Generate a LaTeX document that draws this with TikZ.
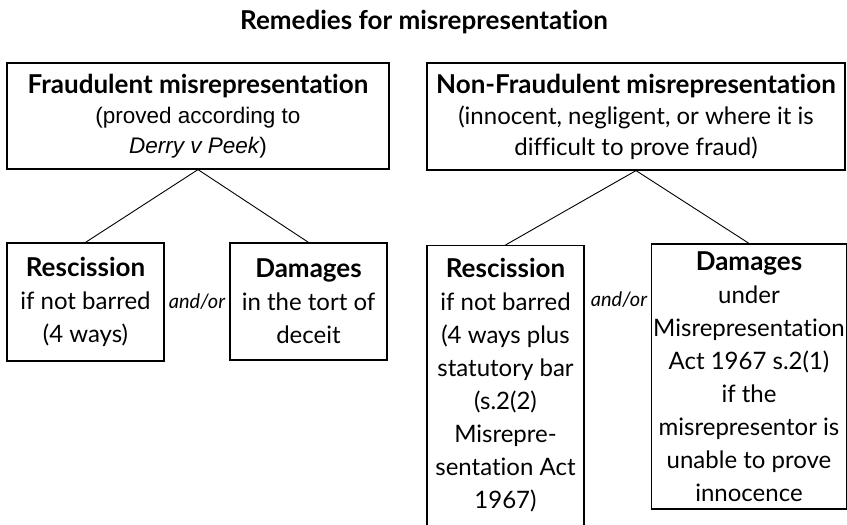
\documentclass[tikz,border=0pt]{standalone}
\usepackage{fontspec}
\setmainfont{Lato}[Ligatures=NoCommon]
\newfontfamily\arialfont{Liberation Sans}

\begin{document}
\begin{tikzpicture}[
    x=1pt,
    y=-1pt,
    every node/.style={font=\fontsize{24}{33}\selectfont},
    box/.style={draw=black, line width=1.2pt, align=center, inner xsep=2pt},
    head/.style={font=\fontsize{26}{33}\selectfont\bfseries},
    branch/.style={draw=black, line width=0.9pt},
    andor/.style={font=\fontsize{20}{24}\selectfont\itshape}
  ]
    \useasboundingbox (0,0) rectangle (847,525);
    \node[head] (title) at (424,22) {Remedies for misrepresentation};

    % two kinds of misrepresentation
    \node[box, minimum width=382pt, minimum height=106pt, font=\fontsize{24}{30}\selectfont] (fraud) at (198,116)
      {{\fontsize{26}{30}\selectfont\bfseries Fraudulent misrepresentation}\\
       {\arialfont\fontsize{22.5}{30}\selectfont (proved according to}\\
       {\arialfont\fontsize{22.5}{30}\selectfont\itshape Derry v Peek}{\arialfont\fontsize{22.5}{30}\selectfont )}};
    \node[box, minimum width=418pt, minimum height=107pt, font=\fontsize{24}{31}\selectfont] (nonfraud) at (636,116.5)
      {{\fontsize{26}{31}\selectfont\bfseries Non-Fraudulent misrepresentation}\\ (innocent, negligent, or where it is\\ difficult to prove fraud)};

    % remedies
    \node[box, minimum width=157pt, minimum height=118pt] (rescf) at (85.5,302)
      {{\fontsize{26}{33}\selectfont\bfseries Rescission}\\ if not barred\\ (4 ways)};
    \node[box, minimum width=157pt, minimum height=117pt] (damf) at (308.5,301.5)
      {{\fontsize{26}{33}\selectfont\bfseries Damages}\\ in the tort of\\ deceit};
    \node[andor] (andf) at (197,302) {and/or};

    \node[box, minimum width=157pt, inner ysep=13pt, anchor=north] (rescnf) at (505.5,245)
      {{\fontsize{26}{33}\selectfont\bfseries Rescission}\\ if not barred\\ (4 ways plus\\ statutory bar\\ (s.2(2)\\ Misrepre-\\ sentation Act\\ 1967)\\[60pt] \mbox{}};
    \node[box, minimum width=190pt, minimum height=265pt] (damnf) at (749,376.5)
      {{\fontsize{26}{33}\selectfont\bfseries Damages}\\ under\\ Misrepresentation\\ Act 1967 s.2(1)\\ if the\\ misrepresentor is\\ unable to prove\\ innocence};
    \node[andor] (andnf) at (619,300) {and/or};

    \draw[branch] (fraud.south) -- (rescf.north);
    \draw[branch] (fraud.south) -- (damf.north);
    \draw[branch] (nonfraud.south) -- (rescnf.north);
    \draw[branch] (nonfraud.south) -- (damnf.north);
  \end{tikzpicture}
\end{document}
